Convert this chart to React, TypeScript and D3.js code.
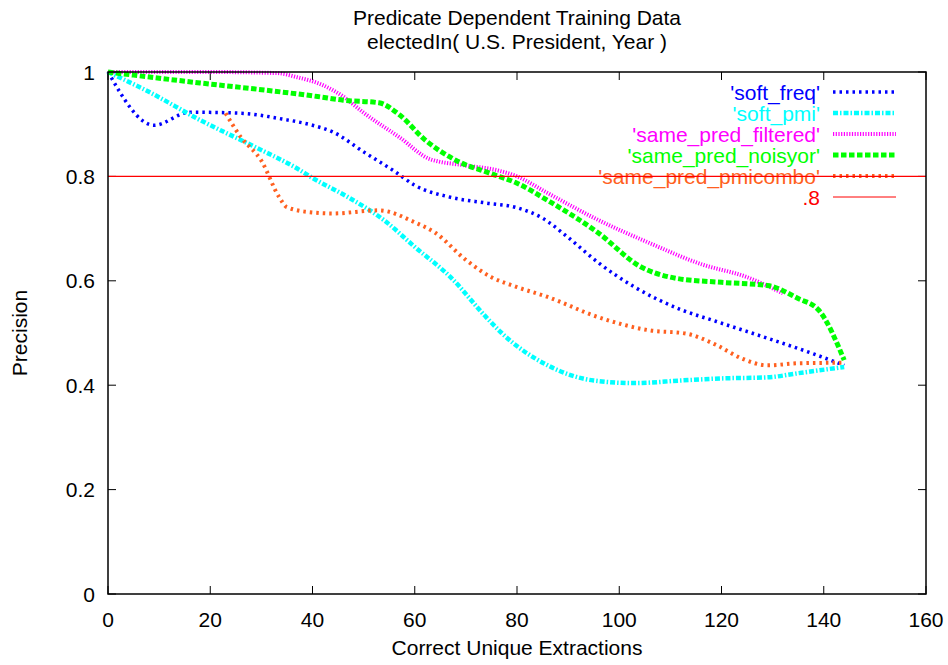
import React from "react";
import * as d3 from "d3";

type Pt = [number, number];

const titleLines = ["Predicate Dependent Training Data", "electedIn( U.S. President, Year )"];
const xLabel = "Correct Unique Extractions";
const yLabel = "Precision";
const xTicks = [0, 20, 40, 60, 80, 100, 120, 140, 160];
const yTicks = [0, 0.2, 0.4, 0.6, 0.8, 1];
const yTickLabels = ["0", "0.2", "0.4", "0.6", "0.8", "1"];

const softFreq: Pt[] = [
  [0, 1], [9, 0.898], [16, 0.923], [26, 0.921], [34, 0.91], [40, 0.898], [44, 0.885],
  [50, 0.847], [56, 0.81], [60, 0.783], [67, 0.76], [74, 0.749], [80, 0.74], [85, 0.72],
  [90, 0.683], [96, 0.634], [103, 0.588], [112, 0.545], [119, 0.522], [129, 0.49],
  [138, 0.46], [144, 0.438],
];
const softPmi: Pt[] = [
  [0, 1], [8, 0.962], [18, 0.908], [28, 0.86], [37, 0.815], [40, 0.797], [47, 0.76],
  [54, 0.716], [60, 0.665], [67, 0.607], [74, 0.53], [77, 0.5], [86, 0.438], [95, 0.409],
  [103, 0.404], [112, 0.409], [120, 0.413], [129, 0.415], [135, 0.423], [144, 0.435],
];
const samePredFiltered: Pt[] = [
  [0, 1], [20, 1], [33, 0.998], [37, 0.99], [42, 0.975], [46, 0.953], [50, 0.922],
  [57, 0.875], [63, 0.833], [70, 0.821], [76, 0.812], [80, 0.8], [86, 0.768], [96, 0.716],
  [106, 0.672], [116, 0.632], [125, 0.607], [132, 0.576],
];
const samePredNoisyor: Pt[] = [
  [0, 1], [5, 0.994], [18, 0.979], [31, 0.965], [41, 0.953], [46, 0.946], [53, 0.941],
  [57, 0.918], [62, 0.87], [68, 0.831], [75, 0.805], [80, 0.787], [86, 0.754], [96, 0.691],
  [104, 0.628], [111, 0.605], [120, 0.597], [129, 0.591], [135, 0.566], [139, 0.544],
  [144, 0.448],
];
const samePredPmicombo: Pt[] = [
  [23, 0.921], [26, 0.875], [30, 0.83], [33.5, 0.76], [35, 0.741], [40, 0.731], [44, 0.729],
  [53, 0.735], [60, 0.712], [64, 0.692], [70, 0.64], [75, 0.607], [80, 0.588], [86, 0.569],
  [96, 0.53], [106, 0.505], [113, 0.499], [119, 0.477], [124, 0.451], [129, 0.438],
  [135, 0.442], [144, 0.443],
];
const refLevel = 0.8;

const seriesNames = ["'soft_freq'", "'soft_pmi'", "'same_pred_filtered'", "'same_pred_noisyor'", "'same_pred_pmicombo'"];
const seriesData = [softFreq, softPmi, samePredFiltered, samePredNoisyor, samePredPmicombo];
const seriesColors = ["#0000ff", "#00ffff", "#ff00ff", "#00ff00", "#ff6020"];
const seriesDash = ["2.5,4", "5,2,1.5,2", "1.2,1.5", "5.5,2.5", "2.5,4"];
const seriesWidth = [3.5, 4.5, 4, 5, 4];
const refName = ".8";
const refColor = "#ff0000";

const W = 948;
const H = 665;
const L = 108, R = 926, T = 72, B = 594;
const FONT = "'Liberation Sans', Arial, Helvetica, sans-serif";

export default function App() {
  const x = d3.scaleLinear().domain([0, 160]).range([L, R]);
  const y = d3.scaleLinear().domain([0, 1]).range([B, T]);
  const line = d3
    .line<Pt>()
    .x((d) => x(d[0]))
    .y((d) => y(d[1]))
    .curve(d3.curveMonotoneX);

  const tickLen = 8;
  const legendTextX = 820;
  const legendX1 = 833, legendX2 = 896;
  const legendY0 = 92, legendDy = 21;

  return (
    <svg
      width={W}
      height={H}
      style={{ position: "absolute", left: 0, top: 0, background: "#fff" }}
      fontFamily={FONT}
      fontSize={21}
    >
      <rect x={0} y={0} width={W} height={H} fill="#fff" />
      {titleLines.map((t, i) => (
        <text key={t} x={(L + R) / 2} y={25 + i * 24} textAnchor="middle" fill="#000">
          {t}
        </text>
      ))}

      {/* ticks */}
      {xTicks.map((v) => (
        <g key={"xt" + v}>
          <line x1={x(v)} x2={x(v)} y1={B} y2={B - tickLen} stroke="#000" strokeWidth={1} />
          <line x1={x(v)} x2={x(v)} y1={T} y2={T + tickLen} stroke="#000" strokeWidth={1} />
          <text x={x(v)} y={627} textAnchor="middle" fill="#000">
            {v}
          </text>
        </g>
      ))}
      {yTicks.map((v, i) => (
        <g key={"yt" + v}>
          <line x1={L} x2={L + tickLen} y1={y(v)} y2={y(v)} stroke="#000" strokeWidth={1} />
          <line x1={R} x2={R - tickLen} y1={y(v)} y2={y(v)} stroke="#000" strokeWidth={1} />
          <text x={95} y={y(v) + 7.5} textAnchor="end" fill="#000">
            {yTickLabels[i]}
          </text>
        </g>
      ))}

      <text x={(L + R) / 2} y={655} textAnchor="middle" fill="#000">
        {xLabel}
      </text>
      <text transform={`translate(27,${(T + B) / 2}) rotate(-90)`} textAnchor="middle" fill="#000">
        {yLabel}
      </text>

      {/* series */}
      {seriesData.map((d, i) => (
        <g key={seriesNames[i]}>
          <text x={legendTextX} y={legendY0 + i * legendDy + 7.5} textAnchor="end" fill={seriesColors[i]}>
            {seriesNames[i]}
          </text>
          <line
            x1={legendX1}
            x2={legendX2}
            y1={legendY0 + i * legendDy}
            y2={legendY0 + i * legendDy}
            stroke={seriesColors[i]}
            strokeWidth={seriesWidth[i]}
            strokeDasharray={seriesDash[i]}
          />
          <path
            d={line(d) || ""}
            fill="none"
            stroke={seriesColors[i]}
            strokeWidth={seriesWidth[i]}
            strokeDasharray={seriesDash[i]}
          />
        </g>
      ))}

      {/* reference line */}
      <text x={legendTextX} y={legendY0 + 5 * legendDy + 7.5} textAnchor="end" fill={refColor}>
        {refName}
      </text>
      <line x1={legendX1} x2={legendX2} y1={legendY0 + 5 * legendDy} y2={legendY0 + 5 * legendDy} stroke={refColor} strokeWidth={1} />
      <line x1={x(0)} x2={x(160)} y1={y(refLevel)} y2={y(refLevel)} stroke={refColor} strokeWidth={1.2} />

      <rect x={L} y={T} width={R - L} height={B - T} fill="none" stroke="#000" strokeWidth={1.5} />
    </svg>
  );
}
